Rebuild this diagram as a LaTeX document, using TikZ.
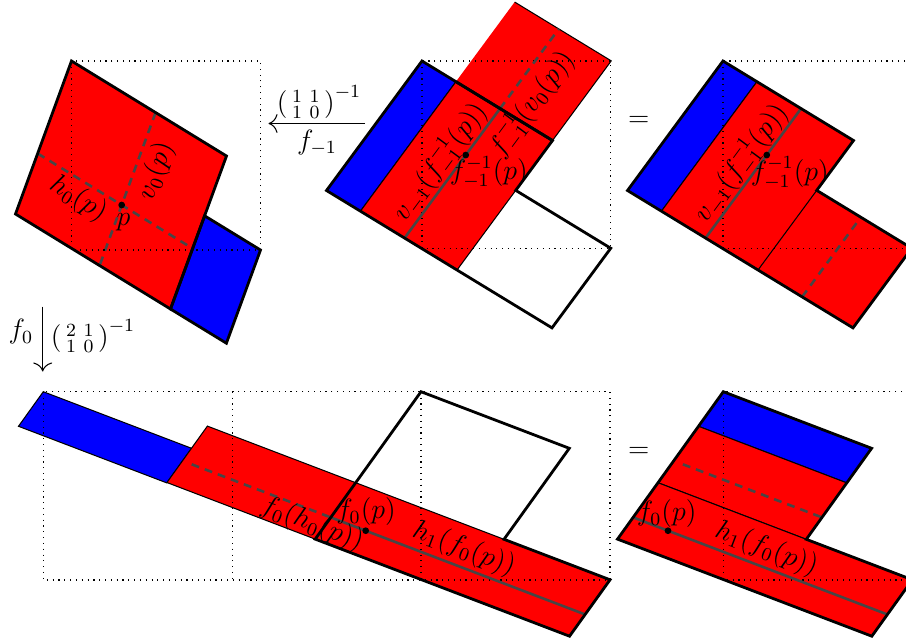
\documentclass[tikz,border=0pt]{standalone}
\usepackage{amsmath}
\usetikzlibrary{arrows.meta}
\definecolor{gline}{RGB}{70,70,70}
\tikzset{
  thk/.style={line width=1.2pt},
  thn/.style={line width=0.45pt},
  gsolid/.style={draw=gline, line width=1.1pt},
  gdash/.style={gsolid, dash pattern=on 3.4pt off 2.6pt},
  dots/.style={dotted, line width=0.5pt},
  lbl/.style={inner sep=0pt, font=\fontsize{12}{14}\selectfont},
  dotpt/.style={fill=black},
  arr/.style={line width=0.45pt, -{To[scale=1.5]}}
}
\begin{document}
\begin{tikzpicture}[x=0.43pt,y=-0.43pt]
\useasboundingbox (0,0) rectangle (906,640);
\clip (0,0) rectangle (906,640);

% ---------------- Panel 1 ----------------
\coordinate (A) at (71.5,61);
\coordinate (B) at (226.5,156);
\coordinate (C) at (170.5,309);
\coordinate (D) at (15.5,214);
\coordinate (E) at (204.6,215.8);
\coordinate (K) at (260.5,250);
\coordinate (F) at (226.4,343.2);
\coordinate (hL) at (37.65,153.5);
\coordinate (hR) at (192.65,248.5);
\coordinate (vT) at (155.6,112.5);
\coordinate (vB) at (99.6,265.5);
\coordinate (p) at (121.7,205);
\fill[red] (A)--(B)--(C)--(D)--cycle;
\fill[blue] (E)--(K)--(F)--(C)--cycle;
\draw[gdash] (hL)--(hR);
\draw[gdash] (vT)--(vB);
\draw[dots] (A) rectangle (K);
\draw[thk] (A)--(B)--(C)--(D)--cycle;
\draw[thk] (E)--(K)--(F)--(C)--cycle;
\fill[dotpt] (p) circle[radius=1.45pt];
\node[lbl, rotate=-31.5] (lh0) at (78.3,199) {$h_0(p)$};
\node[lbl, rotate=70] (lv0) at (156,171) {$v_0(p)$};
\node[lbl] (lp) at (123.5,222) {$p$};

% ---------------- Panel 2 ----------------
\coordinate (P1) at (422,61);
\coordinate (Q) at (455.93,81.67);
\coordinate (P2) at (552.5,140.5);
\coordinate (P4) at (326.5,190.5);
\coordinate (Qb) at (360.43,211.17);
\coordinate (P3) at (457,270);
\coordinate (T) at (515.73,190.36);
\coordinate (LR) at (610.73,248.24);
\coordinate (Q2b) at (552,327.88);
\coordinate (UR) at (611.23,60.86);
\coordinate (UL) at (514.66,2.03);
\coordinate (S2) at (610.6,248.3);
\coordinate (gB) at (404.54,238.04);
\coordinate (gM) at (500.04,108.54);
\coordinate (gT) at (558.77,28.9);
\coordinate (q) at (465.76,155.03);
\filldraw[fill=blue, thn] (P1)--(Q)--(Qb)--(P4)--cycle;
\filldraw[fill=red, thn] (Q)--(P2)--(P3)--(Qb)--cycle;
\fill[red] (UL)--(UR)--(P2)--(Q)--cycle;
\draw[thn] (UL)--(UR)--(P2);
\draw[dots] (P1) rectangle (S2);
\draw[gsolid] (gB)--(gM);
\draw[gdash] (gM)--(gT);
\draw[thk] (Q)--(P2);
\draw[thk] (P4)--(P1)--(P2)--(T)--(LR)--(Q2b)--(P3)--cycle;
\fill[dotpt] (q) circle[radius=1.45pt];
\node[lbl, rotate=53.6] (l2a) at (440,162) {$v_{-1}(f_{-1}^{-1}(p))$};
\node[lbl, rotate=53.6] (l2b) at (532,104) {$f_{-1}^{-1}(v_0(p))$};
\node[lbl] (l2c) at (488.8,172.5) {$f_{-1}^{-1}(p)$};

% ---------------- Panel 3 ----------------
\coordinate (P1c) at (723,61);
\coordinate (Qc) at (756.93,81.67);
\coordinate (P2c) at (853.5,140.5);
\coordinate (P4c) at (627.5,190.5);
\coordinate (Qbc) at (661.43,211.17);
\coordinate (P3c) at (758,270);
\coordinate (Tc) at (816.73,190.36);
\coordinate (LRc) at (911.73,248.24);
\coordinate (Q2bc) at (853,327.88);
\coordinate (S3) at (911.6,248.3);
\coordinate (gBc) at (705.54,238.04);
\coordinate (gMc) at (801.04,108.54);
\coordinate (dc1) at (802.11,296.87);
\coordinate (dc2) at (860.84,217.23);
\coordinate (qc) at (766.76,155.03);
\filldraw[fill=blue, thn] (P1c)--(Qc)--(Qbc)--(P4c)--cycle;
\fill[red] (Tc)--(LRc)--(Q2bc)--(P3c)--cycle;
\filldraw[fill=red, thn] (Qc)--(P2c)--(P3c)--(Qbc)--cycle;
\draw[dots] (P1c) rectangle (S3);
\draw[gsolid] (gBc)--(gMc);
\draw[gdash] (dc1)--(dc2);
\draw[thk] (P4c)--(P1c)--(P2c)--(Tc)--(LRc)--(Q2bc)--(P3c)--cycle;
\fill[dotpt] (qc) circle[radius=1.45pt];
\node[lbl, rotate=53.6] (l3a) at (741,163) {$v_{-1}(f_{-1}^{-1}(p))$};
\node[lbl] (l3c) at (789.8,173) {$f_{-1}^{-1}(p)$};
\node[lbl] (eq1) at (638.8,121.7) {$=$};

% ---------------- Panel 4 ----------------
\coordinate (V1) at (421,391.7);
\coordinate (V2) at (569.3,448.3);
\coordinate (V3) at (504,539.3);
\coordinate (V4) at (610.03,579.77);
\coordinate (V5) at (569.54,636.19);
\coordinate (V6) at (315.21,539.12);
\coordinate (IC) at (355.7,482.7);
\coordinate (RLb) at (166.91,482.52);
\coordinate (RLt) at (207.4,426.1);
\coordinate (BL1) at (43.3,391.7);
\coordinate (BL2) at (191.6,448.3);
\coordinate (BL3) at (166.79,482.88);
\coordinate (BL4) at (18.49,426.28);
\coordinate (S4a) at (43.3,391.7);
\coordinate (S4b) at (610,580);
\coordinate (S4c) at (232.15,391.7);
\coordinate (S4d) at (232.15,580);
\coordinate (S4e) at (421,391.7);
\coordinate (S4f) at (421,580);
\coordinate (d4a) at (191.7,464.3);
\coordinate (d4b) at (330.8,517.4);
\coordinate (d4c) at (585.1,614.45);
\coordinate (fp) at (365.7,530.7);
\filldraw[fill=blue, thn] (BL1)--(BL2)--(BL3)--(BL4)--cycle;
\filldraw[fill=red, thn] (RLt)--(V4)--(V5)--(RLb)--cycle;
\draw[dots] (S4a) rectangle (S4b);
\draw[dots] (S4c)--(S4d);
\draw[dots] (S4e)--(S4f);
\draw[gdash] (d4a)--(d4b);
\draw[gsolid] (d4b)--(d4c);
\draw[thk] (V1)--(V2)--(V3)--(V4)--(V5)--(V6)--cycle;
\fill[dotpt] (fp) circle[radius=1.45pt];
\node[lbl, rotate=-20.9] (l4a) at (312,524) {$f_0(h_0(p))$};
\node[lbl] (l4b) at (366,512) {$f_0(p)$};
\node[lbl, rotate=-20.9] (l4c) at (464,549) {$h_1(f_0(p))$};

% ---------------- Panel 5 ----------------
\coordinate (W1) at (723.3,391.7);
\coordinate (W2) at (871.6,448.3);
\coordinate (W3) at (806.3,539.3);
\coordinate (W4) at (912.33,579.77);
\coordinate (W5) at (871.84,636.19);
\coordinate (W6) at (617.51,539.12);
\coordinate (WIC) at (658,482.7);
\coordinate (Wb1) at (846.79,482.88);
\coordinate (Wb2) at (698.49,426.28);
\coordinate (S5) at (912.15,580);
\coordinate (d5a) at (682.85,464.3);
\coordinate (d5b) at (821.95,517.4);
\coordinate (d5c) at (633.1,517.4);
\coordinate (d5d) at (887.4,614.45);
\coordinate (fp5) at (668,530.7);
\filldraw[fill=blue, thn] (W1)--(W2)--(Wb1)--(Wb2)--cycle;
\filldraw[fill=red, thn] (Wb2)--(Wb1)--(W3)--(WIC)--cycle;
\filldraw[fill=red, thn] (WIC)--(W4)--(W5)--(W6)--cycle;
\draw[dots] (W1) rectangle (S5);
\draw[gdash] (d5a)--(d5b);
\draw[gsolid] (d5c)--(d5d);
\draw[thk] (W1)--(W2)--(W3)--(W4)--(W5)--(W6)--cycle;
\fill[dotpt] (fp5) circle[radius=1.45pt];
\node[lbl] (l5b) at (666.7,514) {$f_0(p)$};
\node[lbl, rotate=-20.9] (l5c) at (766.5,549) {$h_1(f_0(p))$};
\node[lbl] (eq2) at (638.8,452) {$=$};

% ---------------- Arrows ----------------
\coordinate (ha1) at (365,123.5);
\coordinate (ha2) at (268.5,123.5);
\draw[arr] (ha1)--(ha2);
\node[lbl] (m1) at (319,102) {$\left(\begin{smallmatrix}1&1\\1&0\end{smallmatrix}\right)^{-1}$};
\node[lbl] (fm1) at (317,143) {$f_{-1}$};
\coordinate (va1) at (42.7,306.5);
\coordinate (va2) at (42.7,371.5);
\draw[arr] (va1)--(va2);
\node[lbl] (f0l) at (20.8,332) {$f_0$};
\node[lbl] (m2) at (93,336) {$\left(\begin{smallmatrix}2&1\\1&0\end{smallmatrix}\right)^{-1}$};
\end{tikzpicture}
\end{document}
